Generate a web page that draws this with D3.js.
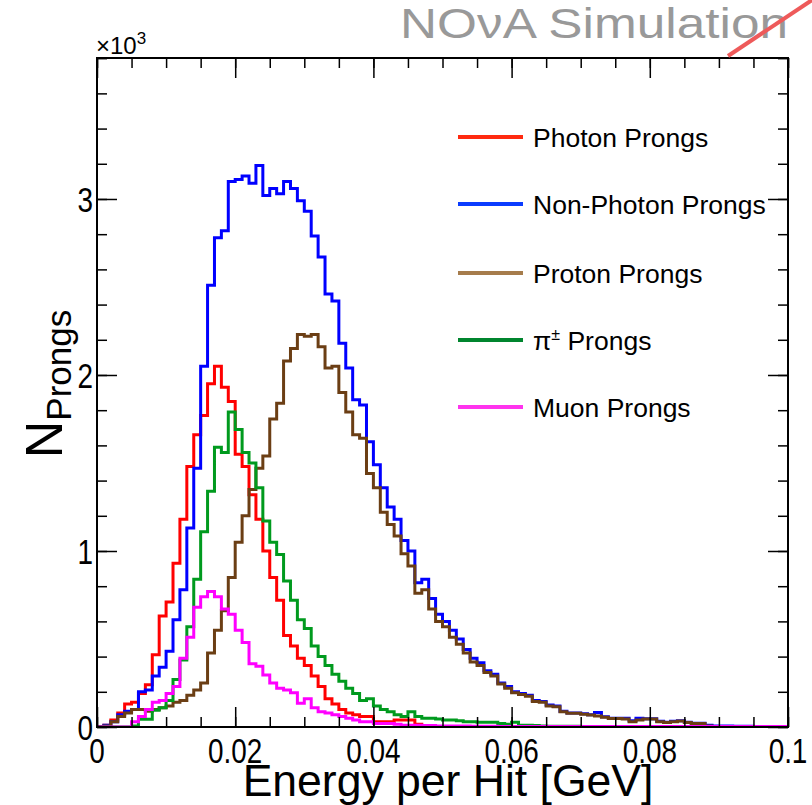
<!DOCTYPE html>
<html><head><meta charset="utf-8">
<script src="https://cdn.jsdelivr.net/npm/d3@7"></script>
<style>html,body{margin:0;padding:0;background:#fff;} svg{display:block;}</style>
</head><body>
<svg id="chart" width="812" height="805"></svg>
<script>
// ---- data (values in units of 10^3 prongs, 100 bins of 0.001 GeV from 0) ----
const binLow = 0, binWidth = 0.001;
const photon = [0,0.01,0.04,0.08,0.13,0.14,0.19,0.24,0.41,0.63,0.71,0.93,1.18,1.48,1.66,1.77,1.95,2.05,1.93,1.85,
1.55,1.48,1.32,1.18,1.00,0.85,0.72,0.52,0.46,0.39,0.35,0.29,0.23,0.16,0.13,0.10,0.08,0.07,0.06,0.06,
0.03,0.03,0.03,0.04,0.04,0.04,0.015,0.005,0,0,0,0,0,0,0,0,0,0,0,0,
0,0,0,0,0,0,0,0,0,0,0,0,0,0,0,0,0,0,0,0,0,0,0,0,0,0,0,0,0,0,0,0,0,0,0,0,0,0,0,0];
const nonPhoton = [0,0.01,0.03,0.07,0.09,0.10,0.20,0.21,0.29,0.34,0.43,0.61,0.78,1.13,1.47,2.05,2.51,2.78,2.82,3.10,
3.11,3.13,3.09,3.19,3.02,3.06,3.03,3.10,3.06,2.99,2.93,2.79,2.67,2.46,2.42,2.18,2.04,1.86,1.83,1.62,
1.49,1.36,1.25,1.18,1.06,1.00,0.82,0.84,0.73,0.64,0.60,0.55,0.50,0.44,0.39,0.365,0.32,0.30,0.25,0.23,
0.20,0.19,0.18,0.15,0.145,0.125,0.12,0.09,0.08,0.08,0.075,0.07,0.082,0.058,0.05,0.05,0.05,0.035,0.05,0.047,
0.047,0.032,0.027,0.032,0.035,0.027,0.022,0.022,0.01,0.005,0.005,0.005,0.004,0.004,0.004,0.003,0.003,0.003,0.003,0.003];
const proton = [0,0.005,0.03,0.06,0.08,0.10,0.10,0.09,0.10,0.11,0.12,0.14,0.15,0.18,0.21,0.25,0.42,0.55,0.66,0.85,
1.05,1.20,1.35,1.47,1.54,1.75,1.84,2.08,2.15,2.23,2.22,2.23,2.16,2.04,2.05,1.90,1.79,1.66,1.64,1.44,
1.36,1.22,1.15,1.085,0.985,0.915,0.76,0.78,0.67,0.60,0.57,0.51,0.47,0.42,0.37,0.35,0.31,0.29,0.245,0.22,
0.195,0.185,0.175,0.145,0.14,0.12,0.115,0.087,0.078,0.078,0.072,0.068,0.063,0.055,0.049,0.049,0.045,0.03,0.04,0.045,
0.045,0.03,0.025,0.03,0.034,0.025,0.02,0.02,0.005,0.002,0.002,0.002,0.002,0.002,0.002,0.002,0.002,0.002,0.002,0.002];
const pion = [0,0,0,0,0,0.005,0.044,0.044,0.095,0.11,0.15,0.27,0.38,0.57,0.84,1.11,1.34,1.59,1.56,1.79,
1.69,1.56,1.50,1.36,1.17,1.05,0.98,0.83,0.72,0.61,0.56,0.46,0.40,0.35,0.30,0.26,0.22,0.19,0.15,0.16,
0.12,0.10,0.086,0.07,0.06,0.086,0.06,0.05,0.05,0.045,0.04,0.04,0.035,0.03,0.03,0.027,0.027,0.027,0.02,0.015,
0.027,0.01,0.01,0.008,0.006,0.004,0.004,0.004,0.004,0.004,0.003,0.003,0.003,0.003,0.003,0.002,0.002,0.002,0.002,0.002,
0.002,0.002,0.002,0.002,0.002,0.001,0.001,0.001,0.001,0.001,0,0,0,0,0,0,0,0,0,0];
const muon = [0,0,0,0,0,0.03,0.06,0.10,0.14,0.15,0.19,0.23,0.39,0.51,0.68,0.74,0.77,0.74,0.67,0.64,
0.55,0.48,0.36,0.345,0.295,0.25,0.22,0.21,0.195,0.135,0.16,0.11,0.087,0.08,0.07,0.06,0.05,0.04,0.03,0.03,
0.02,0.02,0.02,0.015,0.01,0.01,0.01,0.008,0.008,0.006,0.006,0.005,0.005,0.005,0.004,0.004,0.004,0.004,0.003,0.003,
0.003,0.003,0.003,0.003,0.003,0.003,0.003,0.003,0.003,0.003,0.003,0.003,0.003,0.003,0.003,0.003,0.003,0.003,0.003,0.003,
0.003,0.003,0.003,0.003,0.003,0.003,0.003,0.003,0.003,0.003,0.003,0.003,0.003,0.003,0.003,0.003,0.003,0.003,0.003,0.003];

const seriesNames = ["Photon Prongs","Non-Photon Prongs","Proton Prongs","\u03c0\u00b1 Prongs","Muon Prongs"];
const seriesValues = [photon, nonPhoton, proton, pion, muon];
const seriesColors = ["#ff0000","#0000ff","#6b3e14","#009a1e","#ff00ff"];
const legendColors = ["#ff2a10","#0a3cff","#a67c4c","#00852e","#ff33ee"];

const xMajorTicks = [0,0.02,0.04,0.06,0.08,0.1];
const xTickLabels = ["0","0.02","0.04","0.06","0.08","0.1"];
const yMajorTicks = [0,1,2,3];
const yTickLabels = ["0","1","2","3"];

// ---- layout ----
const F = {left:97,right:788,top:58,bottom:727};
const svg = d3.select("#chart");
const x = d3.scaleLinear().domain([0,0.1]).range([F.left,F.right]);
const y = d3.scaleLinear().domain([0,3.801]).range([F.bottom,F.top]);
const FONT = "'Liberation Sans', Arial, Helvetica, sans-serif";

svg.append("defs").append("clipPath").attr("id","clip")
  .append("rect").attr("x",F.left).attr("y",F.top).attr("width",F.right-F.left).attr("height",F.bottom-F.top);

// histograms
const line = d3.line().x(d=>x(d[0])).y(d=>y(d[1])).curve(d3.curveStepAfter);
const gH = svg.append("g").attr("clip-path","url(#clip)");
seriesValues.forEach((vals,k)=>{
  const pts = [[binLow,0]].concat(vals.map((v,i)=>[binLow+i*binWidth,v]));
  pts.push([binLow+vals.length*binWidth, vals[vals.length-1]]);
  gH.append("path").attr("d",line(pts)).attr("fill","none")
    .attr("stroke",seriesColors[k]).attr("stroke-width",3).attr("stroke-linejoin","miter");
});

// axes ticks
const xMinor = d3.range(0,0.1001,0.005);
const yMinor = d3.range(0,3.81,0.2);
function tickAxis(axisFn, scale, vals, size){
  return axisFn(scale).tickValues(vals).tickSize(size).tickFormat("");
}
const axG = svg.append("g");
axG.append("g").attr("transform",`translate(0,${F.bottom})`).call(tickAxis(d3.axisBottom,x,xMinor,-10));
axG.append("g").attr("transform",`translate(0,${F.bottom})`).call(tickAxis(d3.axisBottom,x,xMajorTicks,-20));
axG.append("g").attr("transform",`translate(0,${F.top})`).call(tickAxis(d3.axisTop,x,xMinor,-10));
axG.append("g").attr("transform",`translate(0,${F.top})`).call(tickAxis(d3.axisTop,x,xMajorTicks,-20));
axG.append("g").attr("transform",`translate(${F.left},0)`).call(tickAxis(d3.axisLeft,y,yMinor,-10));
axG.append("g").attr("transform",`translate(${F.left},0)`).call(tickAxis(d3.axisLeft,y,yMajorTicks,-20));
axG.append("g").attr("transform",`translate(${F.right},0)`).call(tickAxis(d3.axisRight,y,yMinor,-10));
axG.append("g").attr("transform",`translate(${F.right},0)`).call(tickAxis(d3.axisRight,y,yMajorTicks,-20));
axG.selectAll(".domain").remove();
axG.selectAll(".tick line").attr("stroke","#000").attr("stroke-width",1.5);

// frame
svg.append("rect").attr("x",F.left).attr("y",F.top).attr("width",F.right-F.left).attr("height",F.bottom-F.top)
  .attr("fill","none").attr("stroke","#000").attr("stroke-width",2);

// tick labels
const tl = svg.append("g").attr("font-family",FONT).attr("font-size",34).attr("fill","#000");
xMajorTicks.forEach((v,i)=>{
  tl.append("text").attr("transform",`translate(${x(v)},${763}) scale(0.82,1.04)`)
    .attr("text-anchor","middle").text(xTickLabels[i]);
});
yMajorTicks.forEach((v,i)=>{
  tl.append("text").attr("transform",`translate(${F.left-4},${y(v)+13}) scale(0.82,1.04)`)
    .attr("text-anchor","end").text(yTickLabels[i]);
});

// axis titles
svg.append("text").attr("transform","translate(448,796) scale(1.06,1.04)").attr("text-anchor","middle")
  .attr("font-family",FONT).attr("font-size",42).text("Energy per Hit [GeV]");
const yt = svg.append("text").attr("transform","translate(62,384) rotate(-90)")
  .attr("font-family",FONT).attr("text-anchor","middle");
yt.append("tspan").attr("font-size",52).text("N");
yt.append("tspan").attr("font-size",35).attr("dy",9).text("Prongs");

// exponent
const ex = svg.append("text").attr("x",96).attr("y",54).attr("font-family",FONT).attr("font-size",24);
ex.append("tspan").text("\u00d710");
ex.append("tspan").attr("font-size",17).attr("dy",-10).text("3");

// NOvA Simulation
svg.append("text").attr("x",400).attr("y",38).attr("font-family",FONT).attr("font-size",42)
  .attr("fill","#999").attr("textLength",388).attr("lengthAdjust","spacingAndGlyphs").text("NO\u03bdA Simulation");
svg.append("line").attr("x1",728).attr("y1",56).attr("x2",815).attr("y2",-2)
  .attr("stroke","#ee5a5a").attr("stroke-width",4);

// legend
const lg = svg.append("g").attr("font-family",FONT).attr("font-size",26.5);
const legY = [137,204,273,340,407];
seriesNames.forEach((n,k)=>{
  lg.append("line").attr("x1",458).attr("x2",523).attr("y1",legY[k]).attr("y2",legY[k])
    .attr("stroke",legendColors[k]).attr("stroke-width",4);
  const t = lg.append("text").attr("x",533).attr("y",legY[k]+10);
  if(k===3){
    t.append("tspan").text("\u03c0");
    t.append("tspan").attr("font-size",16).attr("dy",-10).text("\u00b1");
    t.append("tspan").attr("dy",10).text(" Prongs");
  } else t.text(n);
});
</script>
</body></html>
